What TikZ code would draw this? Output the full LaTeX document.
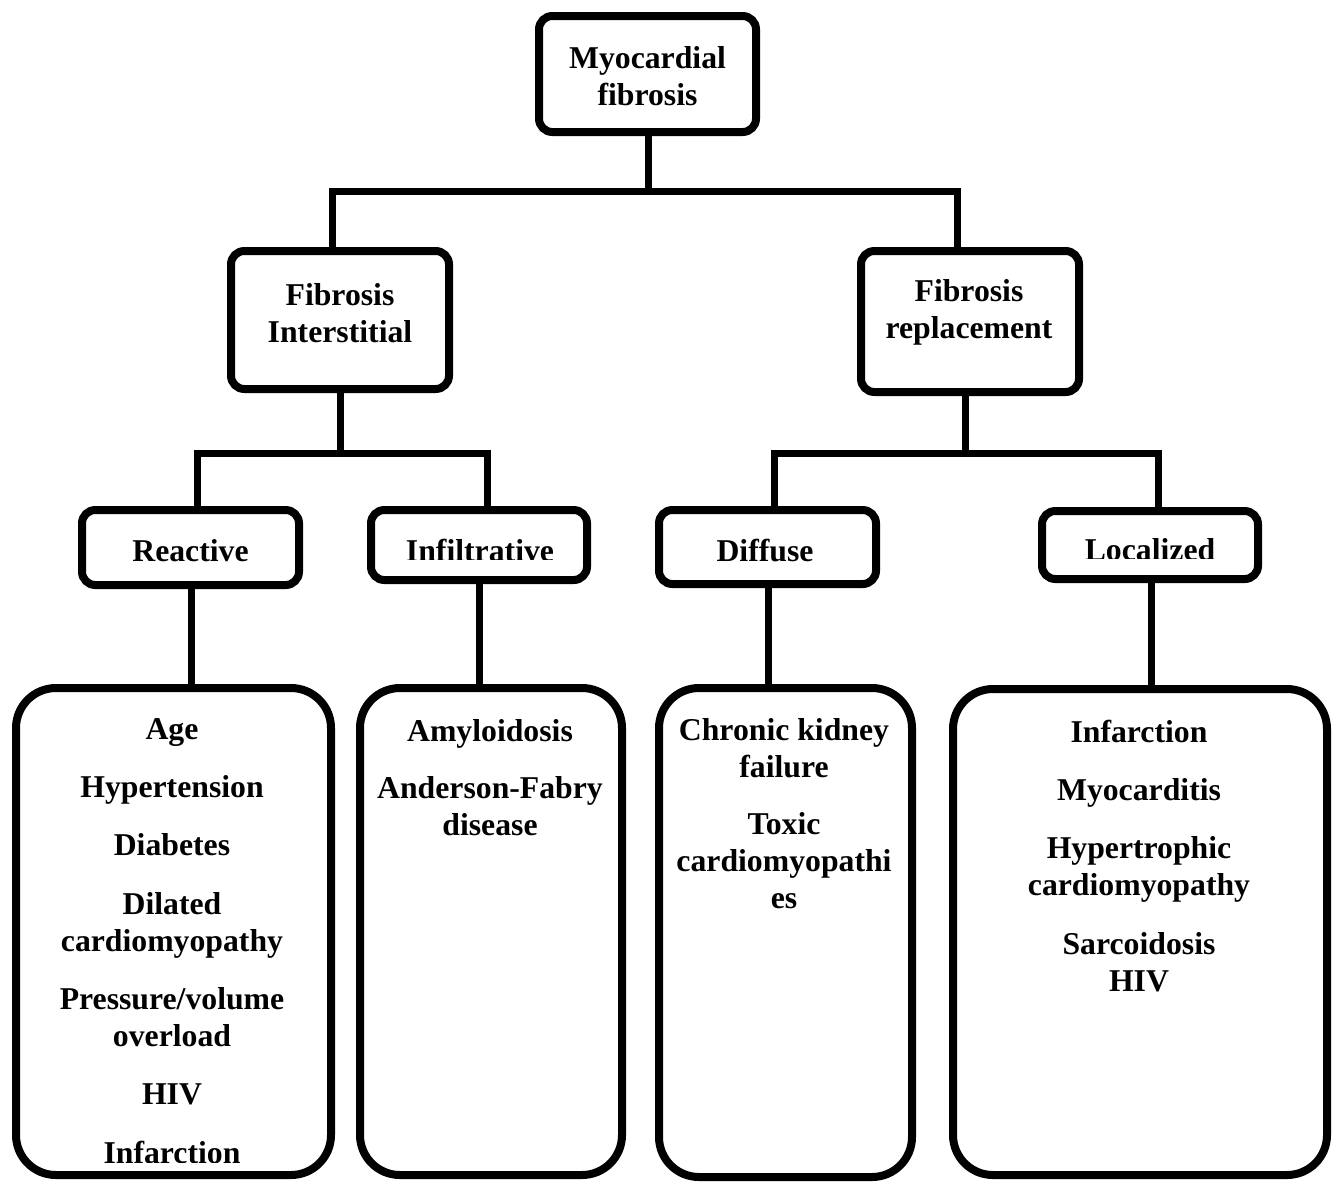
\documentclass[tikz,border=0pt]{standalone}
\usepackage{fontspec}
\setmainfont{Liberation Serif}
\begin{document}
\begin{tikzpicture}[x=0.75pt,y=-0.75pt,
  sbox/.style={draw=black,line width=6pt,rounded corners=10pt,inner sep=0pt,fill=white},
  bigbox/.style={draw=black,line width=6pt,rounded corners=30pt,inner sep=0pt,fill=white},
  conn/.style={draw=black,line width=5.25pt},
  txt/.style={font=\fontsize{23.8}{27.75}\selectfont\bfseries,align=center,inner sep=0pt,anchor=base}]
\useasboundingbox (0,0) rectangle (1338,1183);
% boxes
\node[sbox,minimum width=162.75pt,minimum height=87pt] (top) at (647.5,74) {};
\node[sbox,minimum width=163.5pt,minimum height=103.5pt] (inter) at (340,320) {};
\node[sbox,minimum width=163.5pt,minimum height=105.75pt] (repl) at (970,321.5) {};
\node[sbox,minimum width=162.75pt,minimum height=56.25pt] (reac) at (190.5,547.5) {};
\node[sbox,minimum width=162pt,minimum height=52.5pt] (infil) at (479,545) {};
\node[sbox,minimum width=162.75pt,minimum height=55.5pt] (diff) at (767.5,547) {};
\node[sbox,minimum width=162pt,minimum height=51pt] (loc) at (1150,545) {};
\node[bigbox,minimum width=236.25pt,minimum height=365.25pt] (b1) at (173.5,931.5) {};
\node[bigbox,minimum width=196.5pt,minimum height=365.25pt] (b2) at (491,931.5) {};
\node[bigbox,minimum width=189.75pt,minimum height=366.75pt] (b3) at (785.5,932.5) {};
\node[bigbox,minimum width=280.5pt,minimum height=364.5pt] (b4) at (1140,932) {};
% junctions
\coordinate (j1) at (648.5,191);
\coordinate (j2) at (340,453);
\coordinate (j3) at (965,453);
% connectors
\draw[conn] (j1 |- top.south) -- (j1);
\draw[conn] ([xshift=-6pt]inter.north) |- (j1) -| ([xshift=-9.75pt]repl.north);
\draw[conn] (inter.south) -- (j2);
\draw[conn] ([xshift=5.6pt]reac.north) |- (j2) -| ([xshift=6pt]infil.north);
\draw[conn] (j3 |- repl.south) -- (j3);
\draw[conn] ([xshift=4.9pt]diff.north) |- (j3) -| ([xshift=6pt]loc.north);
\draw[conn] ([xshift=1.1pt]reac.south) -- ([xshift=1.1pt]reac.south |- b1.north);
\draw[conn] (infil.south) -- (infil.south |- b2.north);
\draw[conn] ([xshift=1pt]diff.south) -- ([xshift=1pt]diff.south |- b3.north);
\draw[conn] ([xshift=0.75pt]loc.south) -- ([xshift=0.75pt]loc.south |- b4.north);
% texts (anchor = baseline of the last line)
\node[txt] (t0) at (647.5,105) {Myocardial\\fibrosis};
\node[txt] (t1) at (340,342) {Fibrosis\\Interstitial};
\node[txt] (t2) at (969,338) {Fibrosis\\replacement};
\node[txt] (t3) at (190.5,561) {Reactive};
\begin{scope}
\clip (371,500) rectangle (587,559);
\node[txt] (t4) at (480,561) {Infiltrative};
\end{scope}
\node[txt] (t5) at (765,561) {Diffuse};
\begin{scope}
\clip (1042,500) rectangle (1258,558);
\node[txt] (t6) at (1150,560) {Localized};
\end{scope}
\begin{scope}
\clip (16,700) rectangle (331,1162);
\node[txt] (t7) at (172,1163) {Age\\[16pt] Hypertension\\[16pt] Diabetes\\[16pt] Dilated\\cardiomyopathy\\[16pt] Pressure/volume\\overload\\[16pt] HIV\\[16pt] Infarction};
\end{scope}
\node[txt] (t8) at (490,835) {Amyloidosis\\[15pt] Anderson-Fabry\\disease};
\node[txt] (t9) at (784,908) {Chronic kidney\\failure\\[15pt] Toxic\\cardiomyopathi\\es};
\node[txt] (t10) at (1139,991) {Infarction\\[16pt] Myocarditis\\[16pt] Hypertrophic\\cardiomyopathy\\[16pt] Sarcoidosis\\HIV};
\end{tikzpicture}
\end{document}
